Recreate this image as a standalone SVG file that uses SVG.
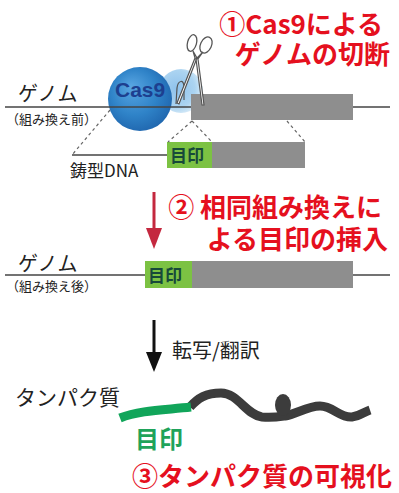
<svg xmlns="http://www.w3.org/2000/svg" width="399" height="493" viewBox="0 0 399 493">
  <defs>
    <radialGradient id="cas9Body" cx="0.45" cy="0.45" r="0.6" fx="0.35" fy="0.3">
      <stop offset="0" stop-color="#5aa6e2"/>
      <stop offset="0.6" stop-color="#2f83c8"/>
      <stop offset="1" stop-color="#1f65ad"/>
    </radialGradient>
    <radialGradient id="cas9Lobe" cx="0.4" cy="0.45" r="0.6">
      <stop offset="0" stop-color="#8fc2ec"/>
      <stop offset="0.7" stop-color="#acd4f1"/>
      <stop offset="1" stop-color="#d8ebf8"/>
    </radialGradient>
    <style>
      .jp { font-family: "Noto Sans CJK JP", "Noto Sans", sans-serif; }
      .title { font-weight: 700; font-size: 26px; fill: #e5101e; }
      .label { font-size: 20px; fill: #222; }
      .small { font-size: 13px; fill: #222; }
      .tag { font-weight: 700; font-size: 17px; fill: #17493a; }
      .dna { stroke: #444; stroke-width: 1.6; fill: none; }
      .dash { stroke: #666; stroke-width: 1.2; stroke-dasharray: 3 3; fill: none; }
      .gene { fill: #8e8e8e; }
      .mark { fill: #7cc243; }
      .blade { stroke: #555; stroke-width: 1.2; fill: #fff; }
    </style>
  </defs>

  <!-- step 1: cutting the genome -->
  <g id="step1-title">
    <text class="jp title" text-anchor="end">
      <tspan x="389" y="34">①Cas9による</tspan>
      <tspan x="390" y="64">ゲノムの切断</tspan>
    </text>
  </g>

  <g id="cas9">
    <circle cx="181" cy="91" r="22" fill="url(#cas9Lobe)"/>
    <circle cx="140" cy="99" r="32" fill="url(#cas9Body)"/>
    <text x="115" y="97" font-family="Liberation Sans, Arial, sans-serif" font-weight="700" font-size="21" fill="#1d3f8f">Cas9</text>
  </g>

  <g id="genome-before">
    <line class="dna" x1="5" y1="107" x2="390" y2="107"/>
    <rect class="gene" x="191" y="94" width="162" height="26"/>
    <text class="jp label" x="18" y="101">ゲノム</text>
    <text class="jp small" x="6" y="124">（組み換え前）</text>
  </g>

  <g id="guide-rna">
    <path d="M176,104 L177,88 C178,80 184,79 184,87 L184,100" fill="none" stroke="#555" stroke-width="1.2"/>
  </g>

  <g id="scissors">
    <ellipse cx="192" cy="43" rx="4.5" ry="8.5" transform="rotate(15 192 43)" fill="none" stroke="#555" stroke-width="1.3"/>
    <ellipse cx="206" cy="45" rx="5.5" ry="8.5" transform="rotate(25 206 45)" fill="none" stroke="#555" stroke-width="1.3"/>
    <path class="blade" d="M193,51 L197,58 L179,104 L177,103 L195,58 Z"/>
    <path class="blade" d="M203,52 L198,59 L204,105 L202,105 L196,59 Z"/>
    <circle cx="196.5" cy="58.5" r="1.3" fill="#555"/>
  </g>

  <g id="template-dna">
    <line class="dna" x1="72" y1="155" x2="167" y2="155"/>
    <rect class="mark" x="167" y="142" width="45" height="26"/>
    <rect class="gene" x="212" y="142" width="93" height="26"/>
    <text class="jp tag" x="170" y="162">目印</text>
    <text class="jp" x="70" y="177" font-size="17" fill="#222">鋳型DNA</text>
  </g>

  <g id="connectors">
    <line class="dash" x1="110" y1="110" x2="72" y2="155"/>
    <line class="dash" x1="192" y1="121" x2="168" y2="142"/>
    <line class="dash" x1="192" y1="121" x2="212" y2="142"/>
    <line class="dash" x1="287" y1="121" x2="305" y2="142"/>
    <line x1="154" y1="192" x2="154" y2="230" stroke="#c4283f" stroke-width="3"/>
    <path d="M146,228 L162,228 L154,249 Z" fill="#c4283f"/>
    <line x1="154" y1="320" x2="154" y2="356" stroke="#111" stroke-width="3"/>
    <path d="M146,352 L162,352 L154,372 Z" fill="#111"/>
  </g>

  <!-- step 2: homologous recombination -->
  <g id="step2-title">
    <text class="jp title" text-anchor="end">
      <tspan x="388" y="217">② 相同組み換えに</tspan>
      <tspan x="388" y="249">よる目印の挿入</tspan>
    </text>
  </g>

  <g id="genome-after">
    <line class="dna" x1="5" y1="275" x2="390" y2="275"/>
    <rect class="mark" x="145" y="261" width="47" height="27"/>
    <rect class="gene" x="192" y="261" width="161" height="27"/>
    <text class="jp tag" x="148" y="282">目印</text>
    <text class="jp label" x="18" y="271">ゲノム</text>
    <text class="jp small" x="6" y="291">（組み換え後）</text>
  </g>

  <g id="translation-label">
    <text class="jp" x="172" y="358" font-size="20" fill="#222">転写/翻訳</text>
  </g>

  <!-- step 3: tagged protein -->
  <g id="protein">
    <text class="jp" x="15" y="405" font-size="21" fill="#222">タンパク質</text>
    <path d="M190,407 C198,398 206,393 221,393 C238,393 246,415 262,417 C272,418 278,417 285,416 C296,414 308,406 320,406 C333,406 340,418 352,417 C360,416 364,412 370,410" fill="none" stroke="#3c3c3c" stroke-width="9"/>
    <ellipse cx="283" cy="405" rx="8" ry="11" fill="#3c3c3c"/>
    <path d="M120,418 C140,410 165,410 191,407" fill="none" stroke="#11a55a" stroke-width="9"/>
    <text class="jp" x="135" y="448" font-size="24" font-weight="700" fill="#1fa35a">目印</text>
  </g>

  <g id="step3-title">
    <text class="jp title" x="392" y="486" text-anchor="end">③タンパク質の可視化</text>
  </g>
</svg>
